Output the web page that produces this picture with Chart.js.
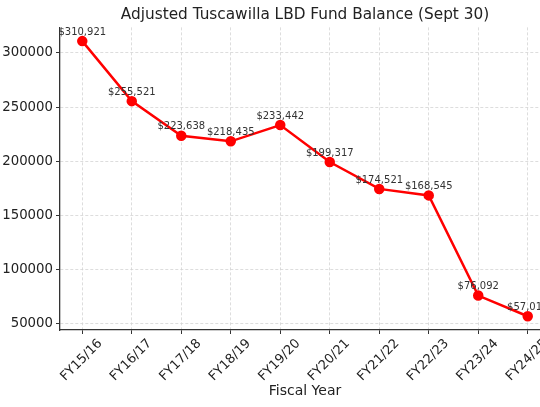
<!DOCTYPE html>
<html lang="en">
<head>
  <meta charset="UTF-8">
  <title>Adjusted Tuscawilla LBD Fund Balance</title>
  <script src="https://cdn.jsdelivr.net/npm/chart.js"></script>
  <style>
    html, body { margin: 0; padding: 0; background: #fff; }
    .wrap { position: relative; width: 540px; height: 407px; overflow: hidden; }
    #chart { position: absolute; left: 0; top: 0; }
  </style>
</head>
<body>
  <div class="wrap">
    <canvas id="chart" width="580" height="407"></canvas>
  </div>

  <script>
    const years = ["FY15/16", "FY16/17", "FY17/18", "FY18/19", "FY19/20", "FY20/21", "FY21/22", "FY22/23", "FY23/24", "FY24/25"];
    const balances = [310921, 255521, 223638, 218435, 233442, 199317, 174521, 168545, 76092, 57010];
    const yTicks = [50000, 100000, 150000, 200000, 250000, 300000];

    const FONT = "'DejaVu Sans', sans-serif";

    // matplotlib-like 5% margins on both axes
    const yLo = Math.min(...balances), yHi = Math.max(...balances);
    const yPad = (yHi - yLo) * 0.05;
    const xPad = (years.length - 1) * 0.05;

    // value labels above each point
    const pointLabels = {
      id: "pointLabels",
      afterDatasetsDraw(chart) {
        const ctx = chart.ctx;
        const meta = chart.getDatasetMeta(0);
        ctx.save();
        ctx.font = "10px " + FONT;
        ctx.fillStyle = "#333";
        ctx.textAlign = "center";
        ctx.textBaseline = "bottom";
        meta.data.forEach((pt, i) => {
          ctx.fillText("$" + balances[i].toLocaleString("en-US"), pt.x, pt.y - 4);
        });
        ctx.restore();
      }
    };

    new Chart(document.getElementById("chart"), {
      type: "line",
      data: {
        datasets: [{
          data: balances.map((v, i) => ({ x: i, y: v })),
          borderColor: "#ff0000",
          backgroundColor: "#ff0000",
          borderWidth: 2.5,
          pointRadius: 4,
          pointHoverRadius: 4,
          tension: 0
        }]
      },
      options: {
        responsive: false,
        animation: false,
        devicePixelRatio: 1,
        layout: { padding: { left: 0, right: 30, top: 0, bottom: 0 } },
        plugins: {
          legend: { display: false },
          tooltip: { enabled: false },
          title: {
            display: true,
            fullSize: false,
            text: "Adjusted Tuscawilla LBD Fund Balance (Sept 30)",
            color: "#222",
            font: { family: FONT, size: 15.3, weight: "normal", lineHeight: 1.2 },
            padding: { top: 6, bottom: 3 }
          }
        },
        scales: {
          x: {
            type: "linear",
            min: -xPad,
            max: years.length - 1 + xPad,
            afterBuildTicks: s => { s.ticks = years.map((_, i) => ({ value: i })); },
            afterFit: s => { s.height = 77; },
            ticks: {
              autoSkip: false,
              minRotation: 45,
              maxRotation: 45,
              labelOffset: 18,
              padding: 2,
              color: "#222",
              font: { family: FONT, size: 13 },
              callback: v => years[v]
            },
            grid: { color: "#d4d4d4", lineWidth: 0.8, tickColor: "#333", tickLength: 4, tickWidth: 1 },
            border: { display: true, color: "#333", width: 1.3, dash: [3, 2] },
            title: {
              display: true,
              text: "Fiscal Year",
              color: "#222",
              font: { family: FONT, size: 14 },
              padding: { top: 2, bottom: 7 }
            }
          },
          y: {
            min: yLo - yPad,
            max: yHi + yPad,
            afterBuildTicks: s => { s.ticks = yTicks.map(v => ({ value: v })); },
            afterFit: s => { s.width = 60; },
            ticks: {
              color: "#222",
              padding: 3,
              font: { family: FONT, size: 13.3 },
              callback: v => String(v)
            },
            grid: { color: "#d4d4d4", lineWidth: 0.8, tickColor: "#333", tickLength: 4, tickWidth: 1 },
            border: { display: true, color: "#333", width: 1.3, dash: [3, 2] }
          }
        }
      },
      plugins: [pointLabels]
    });
  </script>
</body>
</html>
